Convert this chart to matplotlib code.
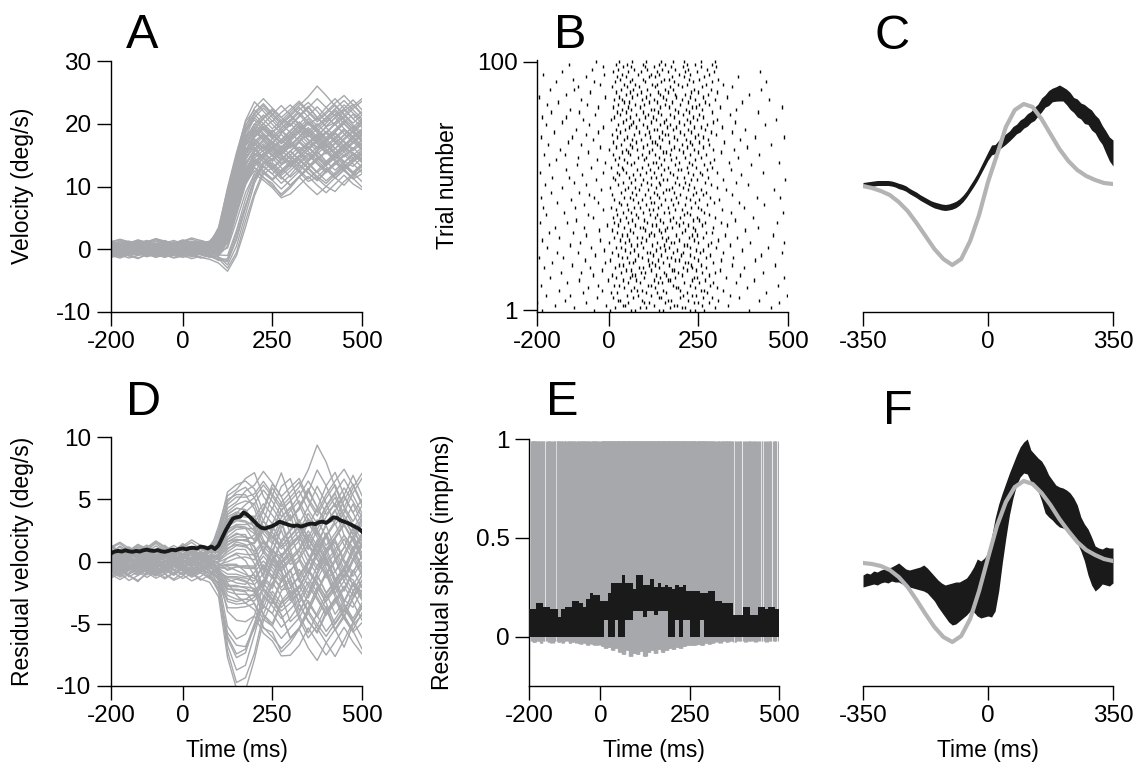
import numpy as np
import matplotlib
matplotlib.use("Agg")
import matplotlib.pyplot as plt

plt.rcParams['font.family'] = ['Liberation Sans', 'DejaVu Sans']
plt.rcParams['axes.unicode_minus'] = False

W, H = 1136, 768
GRAY = '#a7a8ac'
LGRAY = '#b4b4b6'
BLACK = '#1a1a1a'

# ---- panel A: eye velocity, one row per trial, sampled every 25 ms from -200 to 500
t_vel = list(range(-200, 501, 25))
vel_trials = [
    [0.3,0.8,0.5,-0.2,0.1,0.6,0.2,-0.3,0.4,0.9,0.5,0.2, 2.5,8.0,13.5,18.0,19.5,18.2,17.0,18.5,20.1,18.4,16.9,17.8,19.6,21.0,19.2,18.0,18.7],
    [-0.5,-0.9,-0.3,0.2,-0.4,-1.0,-0.6,0.1,-0.2,-0.7,-0.4,-0.9, 0.2,4.5,9.8,13.9,15.2,14.6,16.0,15.1,13.8,14.9,16.3,15.0,13.6,14.8,16.1,15.4,14.2],
    [1.0,0.6,1.2,0.7,0.3,0.9,1.4,0.8,0.5,1.1,0.7,0.4, 1.5,6.2,11.8,16.5,19.0,20.8,22.1,20.5,19.6,21.3,22.8,21.0,19.5,20.2,22.0,23.1,21.6],
    [-1.2,-0.6,-1.0,-1.5,-0.8,-0.3,-0.9,-1.4,-1.1,-0.5,-0.8,-1.3, -1.0,0.5,5.5,10.2,13.0,12.1,11.0,12.4,13.6,12.3,10.8,11.5,12.9,11.4,10.2,11.8,12.6],
    [0.1,-0.3,0.4,0.9,0.5,0.0,-0.4,0.2,0.6,0.1,-0.2,0.3, 0.8,5.0,10.5,15.0,17.2,18.4,17.0,16.2,17.8,19.0,17.5,16.3,17.1,18.6,17.2,16.0,17.4],
    [-0.2,0.4,0.1,-0.5,-0.1,0.5,0.9,0.3,-0.3,0.2,0.7,0.1, 0.0,2.8,7.5,12.0,15.5,16.8,15.4,14.1,15.6,17.1,18.3,16.9,15.2,16.0,17.7,18.9,17.3],
    [0.7,1.3,0.9,0.4,1.0,1.5,1.0,0.6,1.2,1.6,1.1,0.8, 3.5,9.5,15.0,20.5,23.5,22.0,20.4,21.8,23.0,21.5,19.8,20.9,22.6,24.0,22.4,20.8,21.9],
    [-0.8,-0.4,-1.1,-0.7,-0.2,-0.6,-1.2,-0.8,-0.3,-0.9,-1.4,-1.0, -1.8,-1.5,2.5,7.0,11.0,13.2,12.0,10.5,11.8,13.5,12.2,10.9,12.3,13.8,12.5,11.2,12.0],
    [0.4,0.0,-0.5,-0.1,0.3,-0.2,0.1,0.6,0.2,-0.3,0.0,0.5, 1.0,6.0,11.5,15.8,17.5,16.0,17.6,18.9,17.3,15.9,16.8,18.2,19.4,17.9,16.5,17.8,19.0],
    [-0.3,-0.8,-0.4,0.1,0.5,0.0,-0.5,-0.9,-0.4,0.1,-0.3,-0.7, -0.3,3.0,8.0,12.5,14.8,16.5,15.0,13.5,14.2,15.8,17.0,15.6,14.0,15.3,16.6,15.0,14.5],
    [1.3,0.9,0.5,1.0,1.4,0.8,0.4,0.9,1.5,1.1,0.6,1.0, 2.0,7.5,13.0,17.8,21.0,22.5,21.0,19.4,20.6,22.2,23.4,22.0,20.3,21.5,23.0,21.7,20.5],
    [-0.6,-0.2,0.3,-0.1,-0.7,-1.1,-0.5,0.0,-0.4,-0.9,-0.5,-0.1, 0.3,4.0,9.0,13.0,14.5,13.2,12.0,13.4,14.8,13.5,12.1,11.0,12.5,13.9,12.6,11.4,12.8],
    [0.2,0.7,1.1,0.6,0.1,0.5,1.0,0.6,0.0,0.4,0.8,0.3, 0.5,3.5,8.8,13.5,16.0,17.5,19.0,17.4,16.1,17.3,18.8,20.0,18.5,17.0,18.2,19.6,18.1],
    [-1.0,-1.4,-0.9,-0.4,-0.8,-1.3,-0.9,-0.5,-1.0,-1.5,-1.1,-0.6, -1.2,-2.5,0.5,5.5,10.5,13.5,14.5,13.0,11.5,12.8,14.3,15.5,14.0,12.6,13.9,15.2,14.0],
    [0.6,0.2,-0.2,0.3,0.8,0.4,-0.1,0.3,0.7,0.2,-0.2,0.2, 1.2,6.5,12.0,16.5,18.0,19.5,18.2,17.0,18.4,19.8,18.3,17.1,18.6,20.1,21.3,19.8,18.6],
    [-0.1,-0.6,-0.2,0.4,0.0,-0.5,-0.1,0.5,0.1,-0.4,-0.8,-0.3, -0.5,2.0,7.0,11.5,14.0,15.3,14.0,15.6,16.8,15.4,14.0,15.2,16.5,15.1,13.8,15.0,16.2],
    [0.9,0.5,0.9,1.4,1.0,0.5,0.1,0.6,1.1,0.7,0.3,0.8, 2.8,8.5,14.0,19.5,22.5,24.0,22.5,21.0,22.3,23.6,22.0,20.6,21.9,23.3,24.5,23.0,21.4],
    [-0.4,0.0,0.5,0.1,-0.4,-0.8,-0.3,0.2,-0.2,-0.6,-0.1,0.4, 0.0,2.5,6.5,10.5,12.5,11.4,10.5,8.5,9.8,11.5,12.8,11.3,10.0,9.2,10.8,12.0,13.2],
    [0.0,0.5,0.1,-0.4,0.1,0.6,0.2,-0.2,0.3,0.8,0.4,0.0, 0.6,5.2,10.8,15.2,16.8,15.5,14.2,15.7,17.0,15.6,14.4,15.8,17.2,18.4,17.0,15.7,16.9],
    [1.1,1.5,1.0,0.6,1.1,1.6,1.2,0.7,1.3,0.9,0.5,1.0, 1.6,5.8,11.0,15.5,18.5,20.0,18.6,19.9,21.2,19.8,18.4,19.6,20.9,22.3,20.8,19.5,20.7],
    [-0.7,-1.1,-0.6,-0.2,-0.6,-1.0,-0.5,-0.1,-0.5,-1.0,-0.6,-1.1, -1.5,-3.0,-0.5,4.5,9.0,12.5,13.8,12.4,13.7,15.0,13.6,12.2,13.5,14.8,13.4,12.0,13.3],
    [0.3,-0.1,0.3,0.8,0.4,0.0,0.4,0.9,0.5,0.1,0.5,0.9, 1.8,7.0,12.5,17.0,18.8,17.4,18.7,20.0,18.6,17.2,16.0,17.4,18.8,17.5,16.2,17.6,19.0],
    [-0.9,-0.5,-0.1,-0.6,-1.0,-0.5,-0.1,-0.6,-1.0,-0.6,-0.2,-0.7, -0.8,1.0,5.8,10.5,13.5,15.0,16.3,14.9,13.6,14.8,16.2,17.5,16.0,14.7,15.9,17.1,15.8],
    [0.5,0.9,1.3,0.8,0.4,0.8,1.2,0.7,0.3,0.7,1.2,0.8, 1.4,6.8,12.2,16.8,19.5,21.0,22.4,21.0,19.8,21.1,22.5,24.0,22.6,21.2,22.4,23.8,22.2],
    [-0.2,0.2,-0.3,-0.8,-0.3,0.1,-0.4,-0.9,-0.4,0.0,0.4,-0.1, 0.1,3.8,8.5,12.8,15.0,16.4,15.0,13.7,15.0,16.3,15.0,13.6,12.2,13.5,14.9,16.2,14.8],
    [0.8,0.3,0.7,1.2,0.8,0.3,0.7,1.1,0.6,1.0,1.4,0.9, 2.2,8.0,13.5,18.0,19.0,17.5,16.0,17.3,18.8,20.2,18.7,17.3,18.5,19.9,18.4,17.0,18.3],
    [-1.3,-0.9,-1.4,-1.0,-0.5,-0.9,-1.3,-0.8,-0.4,-0.8,-1.3,-1.6, -2.2,-3.5,-1.0,3.5,8.5,12.0,13.0,11.5,10.2,11.6,13.0,14.2,12.7,11.3,12.6,13.9,15.1],
    [0.2,-0.2,0.2,0.6,0.2,-0.3,0.1,0.5,0.0,0.4,0.8,0.4, 0.9,5.5,11.0,15.5,17.8,19.2,20.5,19.0,17.6,18.9,20.3,19.0,17.5,18.8,20.2,21.5,20.0],
    [-0.5,-0.1,0.3,-0.2,-0.6,-0.2,0.2,-0.3,-0.7,-0.3,0.1,-0.4, -0.2,2.2,7.2,11.8,14.2,13.0,14.4,15.8,14.4,13.0,14.2,15.6,16.9,15.5,14.0,13.2,14.6],
    [0.6,1.0,0.5,0.1,0.6,1.0,0.6,0.2,0.7,1.1,0.6,0.2, 3.0,9.0,14.8,19.8,21.5,20.0,21.5,22.9,21.4,20.0,21.3,22.7,21.2,19.8,21.0,22.4,23.6],
    [-0.3,0.1,-0.4,-0.9,-0.5,-0.1,-0.6,-1.0,-0.5,-0.1,-0.5,-0.9, -0.6,1.5,6.2,10.8,13.2,14.6,13.2,11.8,13.0,14.4,13.0,11.6,10.5,11.9,13.3,12.0,13.4],
    [0.0,0.4,0.8,0.3,-0.1,0.3,0.7,0.3,-0.1,0.3,0.7,0.2, 0.4,4.2,9.5,14.2,16.5,18.0,16.6,15.2,16.4,17.8,19.1,17.6,16.2,17.5,18.9,17.4,16.0],
    [1.2,0.8,0.4,0.8,1.3,0.9,0.5,1.0,1.4,1.0,0.6,1.1, 2.4,7.8,13.2,17.5,20.0,18.5,17.0,15.8,17.2,18.6,20.0,18.6,17.2,16.0,17.4,18.8,20.2],
    [-0.6,-1.0,-0.5,-0.1,-0.6,-1.1,-0.7,-0.2,-0.7,-1.2,-0.8,-0.3, -0.4,0.2,4.5,9.0,12.0,11.0,9.8,8.2,8.8,10.2,11.6,10.2,9.0,10.4,11.8,10.4,9.5],
    [0.4,0.8,0.4,0.0,0.5,0.9,0.5,0.1,0.5,1.0,0.6,0.2, 1.1,5.8,11.2,15.8,18.2,19.6,18.2,16.8,18.0,19.4,20.8,19.2,17.8,19.1,20.5,19.0,17.6],
    [-0.1,-0.5,-0.9,-0.4,0.0,-0.4,-0.8,-0.3,0.1,-0.3,-0.7,-0.2, 0.1,3.2,8.2,12.6,15.3,14.0,12.8,14.2,15.6,14.2,12.9,14.3,15.7,14.3,13.0,14.4,15.8],
    [0.9,0.5,0.9,1.3,0.9,0.4,0.8,1.2,0.7,0.3,0.7,1.1, 2.6,8.8,14.4,19.0,21.8,23.2,21.6,20.2,21.5,22.9,24.3,26.0,24.5,22.8,21.4,22.8,24.0],
    [-0.4,-0.8,-0.3,0.1,-0.3,-0.7,-0.2,0.2,-0.2,-0.6,-0.1,0.3, 0.0,2.6,7.8,12.2,14.5,15.8,17.2,15.8,14.4,15.6,17.0,18.4,16.8,15.4,16.6,18.0,16.5],
    [0.1,0.5,0.1,-0.3,0.2,0.6,0.2,-0.2,0.2,0.6,0.2,-0.2, 0.7,4.8,10.2,14.8,16.2,14.6,13.2,11.5,10.2,11.6,13.2,14.6,13.2,11.8,13.1,14.5,15.8],
    [-0.8,-1.2,-0.8,-0.3,-0.7,-1.1,-0.6,-0.2,-0.6,-1.1,-0.7,-0.2, -0.9,-1.0,3.0,8.0,12.0,14.8,16.0,14.6,13.2,14.4,15.8,17.2,15.7,14.3,15.5,16.9,18.2],
    [0.5,0.1,-0.3,0.2,0.7,0.3,-0.2,0.2,0.6,0.2,-0.2,0.3, 1.3,6.0,11.4,16.0,17.0,15.6,16.9,18.3,16.8,15.3,16.7,18.1,16.6,15.2,16.5,17.9,19.2],
    [-0.7,-0.3,0.1,-0.4,-0.8,-0.4,0.0,-0.5,-0.9,-0.5,-0.1,-0.6, -0.7,1.2,6.0,10.8,13.8,15.2,16.5,15.0,16.4,17.8,16.3,14.9,13.6,15.0,16.4,15.0,13.8],
    [0.2,0.6,1.0,0.5,0.1,0.5,0.9,0.4,0.0,0.4,0.9,0.5, 1.9,7.4,12.9,17.4,19.9,21.4,19.9,18.5,19.8,21.2,22.6,21.0,19.6,20.9,22.3,20.8,19.4],
    [-0.2,-0.6,-0.2,0.2,-0.2,-0.7,-0.3,0.1,-0.3,-0.8,-0.4,0.0, -0.1,2.9,7.9,12.3,14.0,12.5,11.2,12.6,14.0,12.6,11.2,12.5,13.9,15.2,13.7,12.3,13.6],
    [1.0,0.6,1.0,1.5,1.1,0.6,1.0,1.4,0.9,0.5,0.9,1.3, 2.9,9.2,14.6,19.2,20.6,19.0,17.6,18.9,20.4,21.8,20.3,18.8,20.1,21.5,20.0,18.6,19.9],
    [-0.9,-0.5,-1.0,-1.4,-0.9,-0.5,-0.9,-1.3,-0.8,-0.4,-0.8,-1.2, -1.6,-2.0,1.5,6.5,11.2,13.8,15.0,16.4,15.0,13.6,14.9,16.3,17.6,16.1,14.7,16.0,17.4],
    [0.3,0.7,0.3,-0.1,0.3,0.8,0.4,0.0,0.4,0.8,0.4,0.0, 0.9,5.6,10.9,15.6,17.6,16.2,14.8,16.1,17.5,18.9,17.4,16.0,17.3,18.7,20.0,18.5,17.1],
    [-0.1,0.3,-0.1,-0.6,-0.2,0.2,-0.2,-0.6,-0.1,0.3,-0.1,-0.5, 0.2,3.6,8.8,13.3,15.8,17.2,15.7,14.3,15.6,17.0,15.6,14.2,15.5,14.0,12.7,14.0,15.4],
    [0.7,0.3,0.7,1.1,0.6,0.2,0.6,1.0,0.5,0.1,0.5,1.0, 2.1,7.6,13.1,18.4,21.5,22.9,21.4,19.9,21.2,22.6,21.1,19.7,21.0,22.4,23.7,22.2,20.8],
    [-0.5,-0.9,-0.5,-0.1,-0.5,-0.9,-0.4,0.0,-0.4,-0.8,-0.4,0.1, -0.2,2.3,7.3,11.7,13.9,12.4,11.0,9.6,11.0,12.4,13.8,12.3,10.9,12.2,13.6,12.1,10.8],
    [0.0,-0.4,0.0,0.5,0.1,-0.3,0.1,0.6,0.2,-0.2,0.2,0.6, 1.0,5.3,10.6,15.1,17.9,19.3,17.8,16.3,17.6,19.0,20.4,18.9,17.4,18.7,20.1,18.6,17.2],
    [1.2,1.6,1.2,0.8,1.2,1.7,1.3,0.9,1.3,1.8,1.4,1.0, 3.2,9.8,15.4,20.3,22.2,20.7,19.2,20.5,21.9,23.3,21.8,20.3,21.6,23.0,21.5,20.1,21.4],
    [-1.1,-0.7,-0.3,-0.7,-1.2,-0.8,-0.4,-0.8,-1.3,-0.9,-0.5,-0.9, -1.3,-1.8,1.8,6.8,11.4,14.0,12.6,11.2,12.5,13.9,15.3,13.8,12.4,13.7,15.1,13.6,12.2],
    [0.4,0.0,0.4,0.9,0.5,0.1,0.5,0.9,0.4,0.0,0.4,0.8, 1.5,6.6,12.1,16.6,18.6,20.0,18.5,17.0,18.3,19.7,18.2,16.8,15.5,16.8,18.2,19.5,18.0],
    [-0.3,0.1,0.5,0.0,-0.4,0.0,0.4,-0.1,-0.5,-0.1,0.3,-0.2, 0.3,3.9,8.9,13.4,15.9,14.4,13.0,14.3,15.7,14.3,12.9,14.2,15.6,17.0,15.5,14.1,15.4],
    [0.8,1.2,0.8,0.4,0.8,1.3,0.9,0.5,0.9,1.3,0.9,0.5, 2.3,8.2,13.8,18.7,21.0,19.5,18.0,19.3,20.7,19.3,17.9,19.2,20.6,22.0,20.5,19.1,20.4],
    [-0.6,-0.2,-0.6,-1.0,-0.6,-0.1,-0.5,-0.9,-0.5,-0.1,-0.5,-0.9, -0.5,1.8,6.6,11.2,13.6,15.0,13.5,12.1,13.4,14.8,16.2,14.7,13.3,14.6,16.0,14.5,13.1],
    [0.1,0.5,0.9,0.4,0.0,0.4,0.8,0.3,-0.1,0.3,0.7,0.2, 0.6,4.5,9.9,14.4,16.9,18.3,16.8,15.3,16.6,18.0,19.4,17.9,16.5,17.8,19.2,17.7,16.3],
    [-0.4,-0.8,-0.4,0.0,-0.4,-0.9,-0.5,-0.1,-0.5,-1.0,-0.6,-0.2, -0.3,2.0,6.9,11.4,13.0,11.5,10.1,8.8,10.1,11.5,10.0,8.7,10.0,11.4,12.8,11.3,9.9],
    [0.6,0.2,0.6,1.0,0.6,0.1,0.5,0.9,0.5,0.1,0.5,0.9, 1.7,7.1,12.6,17.1,19.2,17.7,16.2,17.5,18.9,20.3,18.8,17.4,18.7,17.2,15.8,17.1,18.5],
]

# ---- panel B: spike times (ms) for trials 1..100
spike_rows = [
    [-187,-42,3,61,74,139,150,228,241,266,391],
    [-96,17,88,103,172,205,214,297,452],
    [-151,-8,39,46,127,181,190,259,333],
    [-199,-63,55,98,112,156,237,248,281,476],
    [-122,26,31,94,166,173,222,304,418],
    [-33,12,69,141,145,199,263,287,362],
    [-176,-108,50,83,117,206,231,244,339,497],
    [-71,7,22,105,134,160,218,275,440],
    [-140,-19,63,79,92,151,198,257,266,318],
    [-58,44,71,128,187,193,240,301,386],
    [-190,-29,14,30,109,119,178,227,283,471],
    [-116,53,86,137,148,211,252,291,354],
    [-84,-2,40,77,125,164,170,232,269,405],
    [-163,21,58,99,143,186,238,247,326,489],
    [-45,9,66,74,131,159,203,279,367],
    [-134,-77,35,90,101,155,192,260,296,431],
    [-20,48,62,118,176,182,219,244,309],
    [-180,-52,17,84,96,140,207,233,272,378],
    [-102,29,41,113,129,168,229,258,343,463],
    [-157,-11,57,67,120,152,214,221,290],
    [-66,4,73,110,138,185,196,249,312,409],
    [-195,-128,36,51,94,162,175,237,270,348],
    [-37,25,81,123,147,201,228,282,426],
    [-145,-87,10,60,107,114,179,208,255,319,482],
    [-12,46,70,133,158,191,243,264,371],
    [-171,-49,19,34,97,144,167,226,299,444],
    [-109,63,78,122,153,210,217,276,337],
    [-80,2,45,89,136,174,183,250,285,394,490],
    [-186,-25,31,56,104,161,197,239,306],
    [-138,14,80,92,149,166,224,262,359],
    [-62,38,52,111,127,189,231,247,324,457],
    [-166,-99,23,69,118,145,204,270,288],
    [-27,8,59,102,140,158,213,241,381],
    [-151,-70,43,86,95,163,177,236,291,417],
    [-5,27,74,121,132,195,222,260,331],
    [-192,-117,16,53,108,150,188,206,268,313,468],
    [-91,32,65,99,142,171,234,253,352],
    [-43,11,47,83,130,180,199,245,296,403],
    [-174,-58,24,76,115,135,209,227,280],
    [-126,40,62,97,154,169,218,265,342,485],
    [-15,20,55,112,124,186,203,257,316],
    [-183,-94,6,71,88,137,165,230,249,376],
    [-68,35,50,104,146,178,212,274,433],
    [-143,-31,28,82,119,127,193,240,293,364],
    [-105,15,67,93,157,173,226,251,307],
    [-188,-40,42,58,114,141,187,216,283,413,478],
    [-54,9,77,101,134,200,235,262,345],
    [-160,-82,33,64,125,152,181,244,271],
    [-22,46,85,109,160,168,221,258,328,460],
    [-131,3,54,72,131,176,207,238,301],
    [-177,-64,26,91,117,144,196,225,286,388],
    [-98,39,61,106,139,184,214,269,355],
    [-36,18,73,96,151,163,229,247,319,492],
    [-158,-112,12,57,118,133,190,211,278],
    [-74,30,68,87,145,179,236,261,369],
    [-193,-16,22,49,103,126,171,220,254,303,429],
    [-120,41,79,115,155,194,202,273,340],
    [-50,7,36,92,138,166,217,243,288],
    [-167,-88,25,63,110,147,186,231,266,398],
    [-10,51,70,124,132,197,223,282,335,474],
    [-146,-34,17,44,99,153,175,242,295],
    [-85,29,82,105,141,188,213,256,361],
    [-181,-123,11,60,94,129,170,228,270,420],
    [-59,37,55,113,150,159,208,249,312],
    [-137,2,48,78,122,174,195,237,290,349],
    [-24,21,66,97,143,182,219,264,386],
    [-170,-76,34,59,107,136,205,233,279,453],
    [-113,13,76,120,128,167,226,252,321],
    [-45,43,64,90,148,191,215,276,366],
    [-189,-102,24,52,116,139,183,241,262,407,488],
    [-64,8,71,100,157,165,209,248,299],
    [-152,-29,32,85,111,149,198,230,284,344],
    [-92,19,45,126,134,178,220,268,379],
    [-17,56,75,108,162,187,239,257,315],
    [-176,-55,27,62,95,144,172,211,274,436],
    [-129,40,68,117,153,196,227,292,351],
    [-71,5,49,84,131,160,218,245,303,467],
    [-185,-118,14,58,102,123,181,235,264],
    [-38,31,77,109,147,170,206,253,339],
    [-160,-83,22,47,96,138,192,224,287,415],
    [-107,36,63,119,127,184,216,260,356],
    [-29,11,54,88,142,169,232,243,310,482],
    [-172,-61,26,73,99,156,200,251,280],
    [-141,44,57,112,135,176,221,269,371],
    [-78,16,38,93,125,161,204,240,297,447],
    [-195,-9,29,66,104,150,189,226,263,329],
    [-119,48,80,115,143,185,213,276,392],
    [-53,20,60,91,137,166,230,248,301],
    [-164,-96,35,69,106,158,179,237,284,425],
    [-87,9,51,84,128,171,203,259,343],
    [-25,42,74,121,134,192,218,271,318],
    [-148,-40,18,59,101,146,183,234,289,438],
    [-100,31,65,97,154,168,225,252,306],
    [-63,23,47,113,130,177,209,266,360],
    [-182,-14,38,82,118,141,197,228,281],
    [-131,12,55,90,136,164,214,245,293,421],
    [-47,27,71,108,149,186,222,274],
    [-15,40,63,100,127,173,206,258,300],
    [-111,19,52,95,139,158,219,240,287],
    [-36,30,66,104,145,180,211,256,296],
]
trial_numbers = list(range(1, 101))

# ---- panels C and F: lag axis (ms)
t_lag_coarse = list(range(-350, 351, 25))
t_lag_fine = list(range(-350, 351, 10))
c_gray = [-0.1,-0.3,-0.6,-1.0,-1.7,-2.6,-3.8,-5.1,-6.4,-7.4,-8.0,-7.4,-5.6,-3.0,0.3,
          3.0,5.8,7.5,8.1,7.8,6.6,5.1,3.6,2.4,1.5,0.9,0.5,0.2,0.1]
c_black = [0.0,0.05,0.1,0.15,0.2,0.2,0.2,0.2,0.15,0.05,-0.1,-0.2,-0.35,-0.6,-0.8,
           -1.0,-1.25,-1.45,-1.65,-1.85,-2.0,-2.1,-2.2,-2.25,-2.2,-2.1,-1.95,-1.7,-1.35,-0.9,
           -0.35,0.2,0.8,1.5,2.2,2.9,3.5,3.6,4.0,4.3,4.6,4.9,5.3,5.6,5.9,
           6.2,6.5,6.8,7.1,7.5,8.0,8.4,8.7,9.0,9.1,9.2,9.1,8.8,8.4,8.0,
           7.7,7.4,7.1,6.9,6.5,6.1,5.6,5.0,4.3,3.6,3.2]
c_black_spread = [0.25,0.25,0.25,0.25,0.25,0.25,0.25,0.25,0.25,0.25,0.27,0.27,0.27,0.27,0.27,
                  0.28,0.28,0.28,0.28,0.28,0.3,0.3,0.3,0.3,0.3,0.32,0.32,0.32,0.32,0.32,
                  0.34,0.35,0.36,0.38,0.4,0.42,0.5,0.45,0.48,0.5,0.52,
                  0.5,0.55,0.48,0.6,0.52,0.62,0.55,0.65,0.6,0.7,0.62,0.75,0.68,0.72,0.8,
                  0.7,0.78,0.85,0.75,0.9,0.8,0.95,0.85,1.0,0.9,1.05,0.95,1.1,1.2,1.3]
f_gray = [0.0,-0.1,-0.3,-0.7,-1.4,-2.4,-3.7,-5.1,-6.4,-7.4,-7.9,-7.3,-5.6,-2.8,0.5,
          3.7,6.1,7.6,8.2,7.9,7.0,5.8,4.4,3.2,2.1,1.3,0.8,0.4,0.2]
f_upper = [-1.2,-1.0,-1.1,-0.8,-0.9,-0.7,-0.6,-0.5,-0.4,-0.2,0.0,-0.3,-0.6,-0.7,-0.6,
           -0.5,-0.4,-0.2,-0.5,-0.9,-1.3,-1.7,-2.0,-2.2,-2.1,-2.0,-1.9,-1.9,-1.7,-1.5,
           -1.0,-0.4,0.4,0.2,0.5,1.0,2.6,4.5,5.9,7.0,8.0,9.0,9.9,10.8,11.6,12.1,12.4,
           11.3,10.9,10.5,10.2,9.6,8.8,8.3,7.8,7.6,7.5,7.3,7.0,6.5,5.8,4.6,3.9,3.4,2.6,
           1.7,1.5,1.4,1.6,1.5,1.5]
f_lower = [-2.4,-2.3,-2.2,-2.1,-2.2,-2.0,-1.9,-2.0,-1.8,-1.9,-1.9,-2.1,-2.3,-2.4,-2.5,
           -2.6,-2.7,-2.8,-3.0,-3.4,-3.8,-4.4,-4.9,-5.4,-5.9,-6.2,-6.1,-5.8,-5.5,-5.2,
           -4.8,-4.9,-5.3,-5.5,-5.4,-5.3,-5.4,-4.8,-2.8,0.0,2.5,4.8,6.5,7.8,8.6,9.0,8.9,
           8.1,7.6,7.2,6.2,5.0,4.6,4.3,3.9,3.6,3.5,3.3,3.0,2.5,2.0,1.2,0.2,-1.2,-2.2,
           -2.8,-2.5,-2.1,-2.2,-2.3,-2.0]

# ---- panel D: black residual velocity trace, every 10 ms
t_fine = list(range(-200, 501, 10))
resid_black = [0.65,0.8,0.85,0.8,0.9,0.82,0.78,0.85,0.8,0.9,
               0.95,0.88,0.85,0.92,0.82,0.78,0.85,0.95,0.9,1.0,
               1.05,0.98,1.08,1.1,1.05,1.2,1.15,1.05,1.2,1.0,
               1.3,1.9,2.5,3.0,3.45,3.55,3.6,3.95,3.75,3.5,
               3.2,2.9,2.7,2.65,2.75,2.85,3.0,3.2,3.1,3.0,
               2.9,2.85,2.9,2.8,2.9,3.0,3.05,3.0,3.15,3.2,
               3.1,3.3,3.55,3.5,3.3,3.2,3.1,2.95,2.8,2.65,
               2.4]

# ---- panel E: 10 ms bins from -200
e_bins = list(range(-200, 500, 10))
e_upper = [0.14,0.14,0.17,0.17,0.15,0.15,0.14,0.14,0.10,0.14,
           0.15,0.15,0.18,0.18,0.17,0.15,0.19,0.22,0.21,0.21,
           0.18,0.18,0.22,0.27,0.27,0.27,0.31,0.27,0.27,0.24,
           0.31,0.31,0.26,0.26,0.29,0.25,0.27,0.25,0.26,0.25,
           0.24,0.26,0.25,0.26,0.23,0.23,0.23,0.23,0.22,0.22,
           0.23,0.23,0.18,0.18,0.17,0.17,0.17,0.11,0.11,0.11,
           0.15,0.15,0.11,0.11,0.15,0.15,0.14,0.15,0.15,0.14]
e_lower = [0]*20 + [0,0.086,0,0,0.086,0,0,0.086,0.086,0.13,
                    0.13,0.13,0.1,0.13,0.13,0.11,0.13,0.13,0.13,0,
                    0,0.086,0,0.086,0.086,0,0,0,0.086] + [0]*21
e_fringe = [-0.02,-0.025,-0.02,-0.03,-0.02,-0.025,-0.03,-0.02,-0.025,-0.03,
            -0.02,-0.03,-0.025,-0.03,-0.035,-0.03,-0.04,-0.035,-0.04,-0.045,
            -0.05,-0.06,-0.055,-0.07,-0.06,-0.08,-0.09,-0.07,-0.1,-0.085,
            -0.09,-0.075,-0.1,-0.08,-0.07,-0.085,-0.065,-0.08,-0.07,-0.06,
            -0.065,-0.055,-0.06,-0.05,-0.045,-0.04,-0.045,-0.035,-0.04,-0.03,
            -0.035,-0.03,-0.025,-0.03,-0.02,-0.025,-0.02,-0.025,-0.02,-0.02,
            -0.025,-0.02,-0.02,-0.025,-0.02,-0.02,-0.025,-0.02,-0.02,-0.02]

fig = plt.figure(figsize=(W / 100, H / 100), dpi=100)

TICK_FS = 17.5
LABEL_FS = 16.5


def add_ax(l, t, r, b):
    return fig.add_axes([l / W, 1 - b / H, (r - l) / W, (b - t) / H])


def style(ax, left=True):
    ax.spines['top'].set_visible(False)
    ax.spines['right'].set_visible(False)
    if not left:
        ax.spines['left'].set_visible(False)
        ax.set_yticks([])
    ax.spines['left'].set_linewidth(1.0)
    ax.spines['bottom'].set_linewidth(1.0)
    ax.tick_params(direction='out', length=10, width=1.0, labelsize=TICK_FS, pad=4, colors='k')
    ax.patch.set_alpha(0)


def letter(x, y, s):
    fig.text(x / W, 1 - y / H, s, fontsize=35, ha='left', va='baseline')


def ylabel(x, y, s):
    fig.text(x / W, 1 - y / H, s, fontsize=LABEL_FS, rotation=90, ha='center', va='center')


def xlabel(x, y, s):
    fig.text(x / W, 1 - y / H, s, fontsize=LABEL_FS, ha='center', va='center')


# A
ax = add_ax(111, 61, 362, 312)
for row in vel_trials:
    ax.plot(t_vel, row, color=GRAY, lw=1.0)
ax.set_xlim(-200, 500)
ax.set_ylim(-10, 30)
ax.set_xticks([-200, 0, 250, 500])
ax.set_yticks([-10, 0, 10, 20, 30])
style(ax)
letter(126, 48, 'A')
ylabel(23, 186, 'Velocity (deg/s)')

# B
ax = add_ax(537, 60, 788, 312)
ax.eventplot(spike_rows, lineoffsets=trial_numbers, linelengths=1.3, linewidths=1.0, colors='k')
ax.set_xlim(-200, 500)
ax.set_ylim(0.3, 100.7)
ax.set_xticks([-200, 0, 250, 500])
ax.set_yticks([1, 100])
style(ax)
letter(554, 48, 'B')
ylabel(448, 185, 'Trial number')

# C
ax = add_ax(863, 61, 1113, 312)
cb = np.array(c_black)
cs = np.array(c_black_spread)
ax.fill_between(t_lag_fine, cb - cs, cb + cs, color=BLACK, lw=0)
ax.plot(t_lag_coarse, c_gray, color=LGRAY, lw=3)
ax.set_xlim(-350, 350)
ax.set_ylim(-12.7, 12.4)
ax.set_xticks([-350, 0, 350])
style(ax, left=False)
letter(875, 49, 'C')

# D
ax = add_ax(111, 437, 362, 686)
vel = np.array(vel_trials)
resid = vel - vel.mean(axis=0)
for row in resid:
    ax.plot(t_vel, row, color=GRAY, lw=1.0)
ax.plot(t_fine, resid_black, color=BLACK, lw=2.8)
ax.set_xlim(-200, 500)
ax.set_ylim(-10, 10)
ax.set_xticks([-200, 0, 250, 500])
ax.set_yticks([-10, -5, 0, 5, 10])
style(ax)
letter(126, 415, 'D')
ylabel(23, 561, 'Residual velocity (deg/s)')
xlabel(237, 750, 'Time (ms)')

# E
ax = add_ax(529, 439, 779, 686)
spk = sorted(set(s for row in spike_rows for s in row))
bottoms = [e_fringe[min(int((s + 200) // 10), len(e_fringe) - 1)] for s in spk]
ax.vlines(spk, bottoms, 0.99, color=GRAY, lw=0.9, zorder=2)
edges = e_bins + [500]
ax.fill_between(edges, e_lower + [e_lower[-1]], e_upper + [e_upper[-1]],
                step='post', color=BLACK, lw=0, zorder=3)
ax.set_xlim(-200, 500)
ax.set_ylim(-0.25, 1.0)
ax.set_xticks([-200, 0, 250, 500])
ax.set_yticks([0, 0.5, 1])
ax.set_yticklabels(['0', '0.5', '1'])
style(ax)
letter(546, 415, 'E')
ylabel(442, 562, 'Residual spikes (imp/ms)')
xlabel(654, 750, 'Time (ms)')

# F
ax = add_ax(863, 437, 1113, 686)
ax.fill_between(t_lag_fine, f_lower, f_upper, color=BLACK, lw=0)
ax.plot(t_lag_coarse, f_gray, color=LGRAY, lw=3)
ax.set_xlim(-350, 350)
ax.set_ylim(-12.3, 12.6)
ax.set_xticks([-350, 0, 350])
style(ax, left=False)
letter(883, 424, 'F')
xlabel(988, 750, 'Time (ms)')

fig.savefig('out.png', dpi=100)
